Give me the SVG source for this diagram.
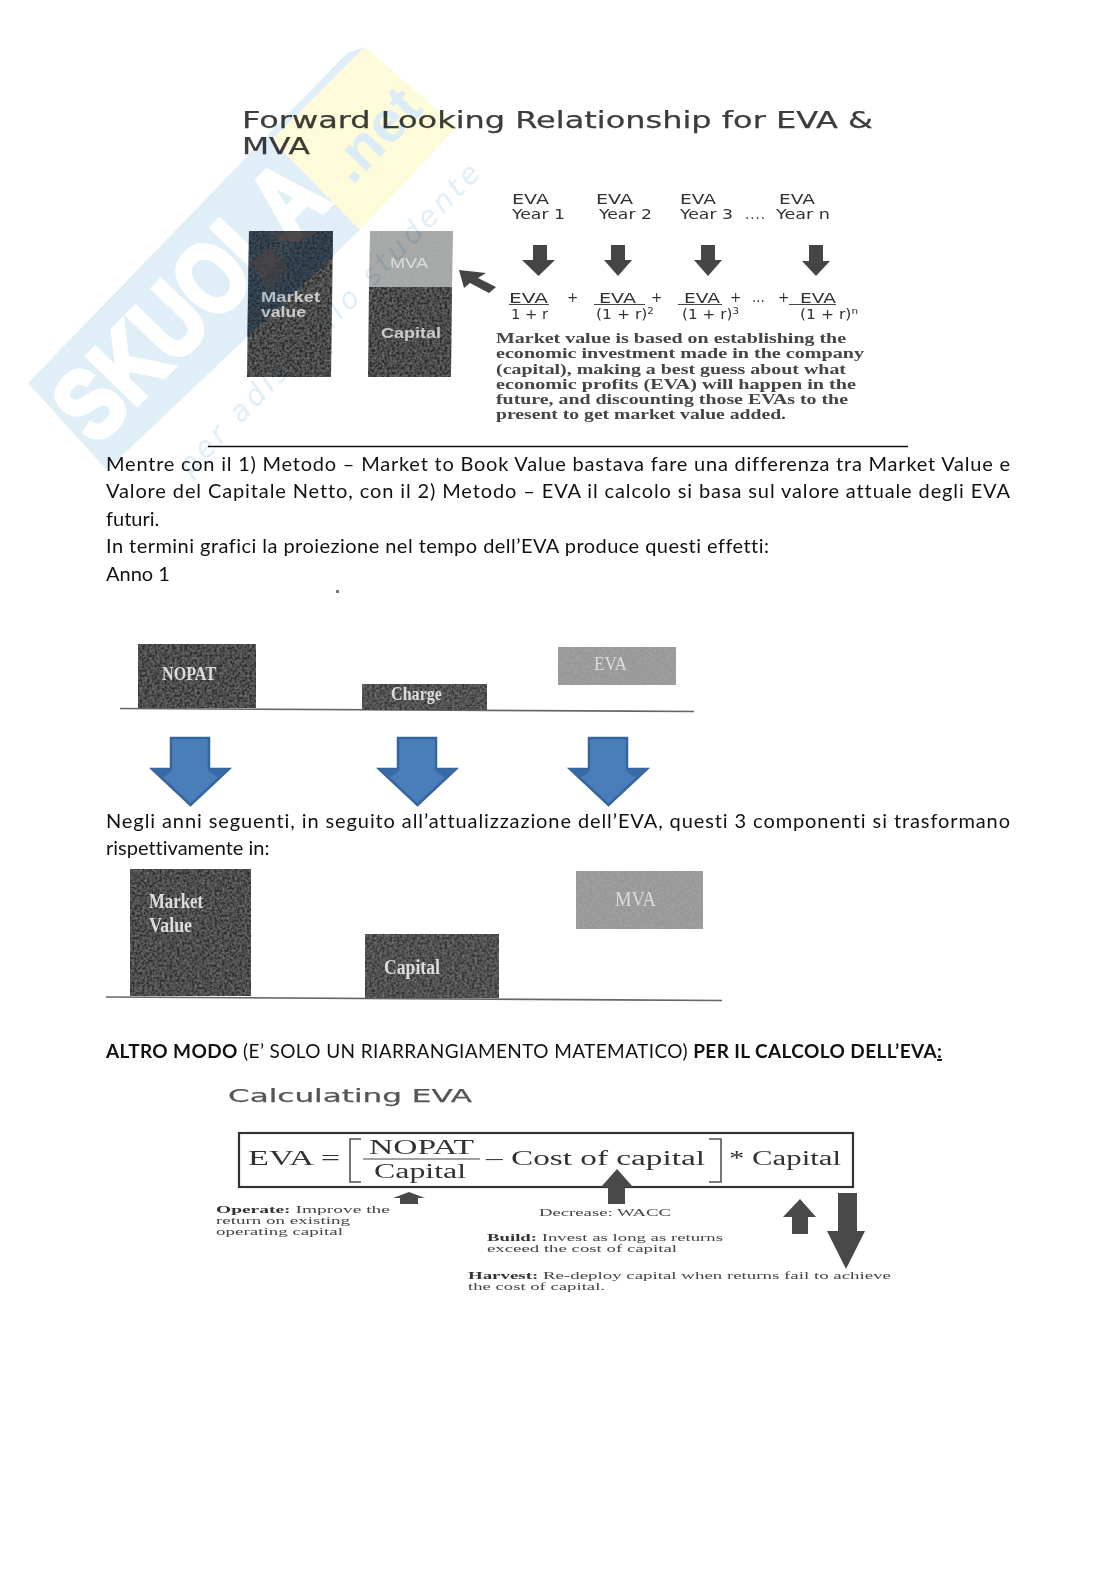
<svg xmlns="http://www.w3.org/2000/svg" xmlns:xlink="http://www.w3.org/1999/xlink" width="1116" height="1579" viewBox="0 0 1116 1579">
<style>
.b{font-family:Lato,"Liberation Sans",sans-serif;font-size:20px;fill:#111;font-variant-ligatures:none}
.s{font-family:"DejaVu Sans",sans-serif;fill:#3c3c3c;stroke:#3c3c3c;stroke-width:.25}
.a{font-family:"DejaVu Sans",sans-serif;font-size:13.5px;fill:#333}
.p{font-family:"Liberation Serif",serif;font-size:15.5px;font-weight:bold;fill:#444}
.l{font-family:"Liberation Sans",sans-serif;font-size:15px;font-weight:bold;fill:#ccc}
.w{font-family:"Liberation Serif",serif;fill:#ddd;font-size:19px}
.f{font-family:"Liberation Serif",serif;font-size:20px;fill:#333}
.n{font-family:"Liberation Serif",serif;font-size:11px;fill:#444}
.nb{font-weight:bold;fill:#333}
.dk{fill:#444}
.blue{fill:#4a7ebb;stroke:#34659c;stroke-width:2.5}
.bevel{fill:#3a6aa3}
.u{stroke:#444;stroke-width:1.2}
</style>
<defs>
<filter id="grain" x="0" y="0" width="100%" height="100%">
<feTurbulence type="fractalNoise" baseFrequency="0.4" numOctaves="2" seed="4" result="t"/>
<feColorMatrix in="t" type="matrix" values="0 0 0 0 0.5 0 0 0 0 0.5 0 0 0 0 0.5 0.55 0 0 0 -0.17" result="g"/>
<feComposite in="g" in2="SourceAlpha" operator="in" result="gc"/>
<feMerge><feMergeNode in="SourceGraphic"/><feMergeNode in="gc"/></feMerge>
</filter>
<filter id="soft"><feGaussianBlur stdDeviation="0.4"/></filter>
<g id="blue-arrow">
<polygon class="blue" points="171,738 209,738 209,769 229,769 190.5,805 152,769 171,769"/>
<polygon class="bevel" points="152,769 171,769 171,772 162,778"/>
<polygon class="bevel" points="229,769 209,769 209,772 219,778"/>
</g>
</defs>

<g id="forward-chart" filter="url(#soft)">
<text class="s" x="242" y="128" font-size="23.5" textLength="631" lengthAdjust="spacingAndGlyphs">Forward Looking Relationship for EVA &amp;</text>
<text class="s" x="242" y="154" font-size="23.5" textLength="68" lengthAdjust="spacingAndGlyphs">MVA</text>

<g id="market-value">
<polygon points="249,231 333,231 331,377 247,377" fill="#2c2c2c" filter="url(#grain)"/>
<polygon points="249,231 333,231 333,257 247,337" fill="#1f3a50" opacity=".45"/>
<polygon points="267,232 317,232 305,241 280,241" fill="#544a48" opacity=".8"/>
<polygon points="253,262 271,247 288,268 268,294" fill="#4a4444" opacity=".7"/>
<text class="l" x="261" y="302" textLength="59" lengthAdjust="spacingAndGlyphs">Market</text>
<text class="l" x="261" y="317" textLength="45" lengthAdjust="spacingAndGlyphs">value</text>
</g>
<g id="mva-capital">
<polygon points="370,231 453,231 452,287 369,287" fill="#a5a7a7" filter="url(#grain)"/>
<polygon points="369,287 452,287 451,377 368,377" fill="#2c2c2c" filter="url(#grain)"/>
<text class="l" x="390" y="268" textLength="38" lengthAdjust="spacingAndGlyphs" style="fill:#ddd;font-weight:normal">MVA</text>
<text class="l" x="381" y="338" textLength="60" lengthAdjust="spacingAndGlyphs">Capital</text>
</g>
<polygon id="diag-arrow" class="dk" points="459,270 486,273 478,278 496,287 489,293 470,283 464,288"/>

<g id="years">
<text class="a" x="512" y="204" textLength="37" lengthAdjust="spacingAndGlyphs">EVA</text><text class="a" x="512" y="219" textLength="53" lengthAdjust="spacingAndGlyphs">Year 1</text>
<text class="a" x="596" y="204" textLength="37" lengthAdjust="spacingAndGlyphs">EVA</text><text class="a" x="599" y="219" textLength="53" lengthAdjust="spacingAndGlyphs">Year 2</text>
<text class="a" x="680" y="204" textLength="36" lengthAdjust="spacingAndGlyphs">EVA</text><text class="a" x="680" y="219" textLength="53" lengthAdjust="spacingAndGlyphs">Year 3</text>
<text class="a" x="745" y="219" textLength="20" lengthAdjust="spacing">....</text>
<text class="a" x="779" y="204" textLength="36" lengthAdjust="spacingAndGlyphs">EVA</text><text class="a" x="776" y="219" textLength="54" lengthAdjust="spacingAndGlyphs">Year n</text>
</g>
<g id="year-arrows" class="dk">
<polygon points="533,245 547,245 547,260 555,260 538.5,276 522,260 533,260"/>
<polygon points="611,245 625,245 625,260 632,260 618,276 604,260 611,260"/>
<polygon points="701,245 715,245 715,260 722,260 708,276 694,260 701,260"/>
<polygon points="809,245 823,245 823,261 830,261 816,276 802,261 809,261"/>
</g>
<g id="formula">
<text class="a" x="509" y="303" textLength="39" lengthAdjust="spacingAndGlyphs">EVA</text><text class="a" x="511" y="319" textLength="37" lengthAdjust="spacingAndGlyphs">1 + r</text>
<text class="a" x="567" y="302">+</text>
<text class="a" x="599" y="303" textLength="37" lengthAdjust="spacingAndGlyphs">EVA</text><text class="a" x="596" y="319" textLength="58" lengthAdjust="spacingAndGlyphs">(1 + r)<tspan font-size="9" dy="-5">2</tspan></text>
<text class="a" x="651" y="302">+</text>
<text class="a" x="684" y="303" textLength="36" lengthAdjust="spacingAndGlyphs">EVA</text><text class="a" x="682" y="319" textLength="57" lengthAdjust="spacingAndGlyphs">(1 + r)<tspan font-size="9" dy="-5">3</tspan></text>
<text class="a" x="730" y="302">+</text>
<text class="a" x="752" y="302">...</text>
<text class="a" x="778" y="302">+</text>
<text class="a" x="800" y="303" textLength="36" lengthAdjust="spacingAndGlyphs">EVA</text><text class="a" x="800" y="319" textLength="58" lengthAdjust="spacingAndGlyphs">(1 + r)<tspan font-size="9" dy="-5">n</tspan></text>
<line class="u" x1="509" y1="304.5" x2="549" y2="304.5"/>
<line class="u" x1="594" y1="304.5" x2="645" y2="304.5"/>
<line class="u" x1="678" y1="304.5" x2="722" y2="304.5"/>
<line class="u" x1="789" y1="304.5" x2="836" y2="304.5"/>
</g>
<g id="market-paragraph">
<text class="p" x="496" y="343" textLength="350" lengthAdjust="spacingAndGlyphs">Market value is based on establishing the</text>
<text class="p" x="496" y="358" textLength="368" lengthAdjust="spacingAndGlyphs">economic investment made in the company</text>
<text class="p" x="496" y="374" textLength="350" lengthAdjust="spacingAndGlyphs">(capital), making a best guess about what</text>
<text class="p" x="496" y="389" textLength="360" lengthAdjust="spacingAndGlyphs">economic profits (EVA) will happen in the</text>
<text class="p" x="496" y="404" textLength="352" lengthAdjust="spacingAndGlyphs">future, and discounting those EVAs to the</text>
<text class="p" x="496" y="419" textLength="290" lengthAdjust="spacingAndGlyphs">present to get market value added.</text>
</g>
</g>
<line id="rule" x1="208" y1="446.5" x2="908" y2="446.5" stroke="#111" stroke-width="1.6"/>

<g id="body-1">
<text class="b" x="106" y="471" textLength="904" lengthAdjust="spacing">Mentre con il 1) Metodo – Market to Book Value bastava fare una differenza tra Market Value e</text>
<text class="b" x="106" y="498" textLength="904" lengthAdjust="spacing">Valore del Capitale Netto, con il 2) Metodo – EVA il calcolo si basa sul valore attuale degli EVA</text>
<text class="b" x="106" y="526">futuri.</text>
<text class="b" x="106" y="553" textLength="663" lengthAdjust="spacing">In termini grafici la proiezione nel tempo dell’EVA produce questi effetti:</text>
<text class="b" x="106" y="581">Anno 1</text>
</g>
<rect id="speck" x="336" y="590" width="3" height="3" fill="#777"/>

<g id="year1-chart" filter="url(#soft)">
<line x1="120" y1="708.5" x2="694" y2="711.5" stroke="#666" stroke-width="1.6"/>
<g id="nopat"><rect x="138" y="644" width="118" height="64" fill="#2f2f2f" filter="url(#grain)"/>
<text class="w" x="162" y="680" textLength="54" lengthAdjust="spacingAndGlyphs" font-weight="bold">NOPAT</text></g>
<g id="charge"><rect x="362" y="684" width="125" height="26" fill="#393939" filter="url(#grain)"/>
<text class="w" x="391" y="700" textLength="51" lengthAdjust="spacingAndGlyphs" font-weight="bold">Charge</text></g>
<g id="eva"><rect x="558" y="647" width="118" height="38" fill="#979797" filter="url(#grain)"/>
<text class="w" x="594" y="670" textLength="33" lengthAdjust="spacingAndGlyphs">EVA</text></g>
</g>

<g id="transform-arrows">
<use xlink:href="#blue-arrow" href="#blue-arrow"/>
<use xlink:href="#blue-arrow" href="#blue-arrow" x="227"/>
<use xlink:href="#blue-arrow" href="#blue-arrow" x="418"/>
</g>

<g id="body-2">
<text class="b" x="106" y="828" textLength="904" lengthAdjust="spacing">Negli anni seguenti, in seguito all’attualizzazione dell’EVA, questi 3 componenti si trasformano</text>
<text class="b" x="106" y="855">rispettivamente in:</text>
</g>

<g id="later-chart" filter="url(#soft)">
<line x1="106" y1="997" x2="722" y2="1000.5" stroke="#666" stroke-width="1.6"/>
<g id="market-value-2"><rect x="130" y="869" width="121" height="127" fill="#2f2f2f" filter="url(#grain)"/>
<text class="w" x="149" y="908" style="font-size:20px" textLength="54" lengthAdjust="spacingAndGlyphs" font-weight="bold">Market</text>
<text class="w" x="149" y="932" style="font-size:20px" textLength="43" lengthAdjust="spacingAndGlyphs" font-weight="bold">Value</text></g>
<g id="capital-2"><rect x="365" y="934" width="134" height="64" fill="#343434" filter="url(#grain)"/>
<text class="w" x="384" y="974" style="font-size:20px" textLength="56" lengthAdjust="spacingAndGlyphs" font-weight="bold">Capital</text></g>
<g id="mva-2"><rect x="576" y="871" width="127" height="58" fill="#979797" filter="url(#grain)"/>
<text class="w" x="615" y="906" style="font-size:20px" textLength="41" lengthAdjust="spacingAndGlyphs">MVA</text></g>
</g>

<text class="b" x="106" y="1058" textLength="836" lengthAdjust="spacing" style="font-size:19px"><tspan font-weight="bold">ALTRO MODO</tspan> (E’ SOLO UN RIARRANGIAMENTO MATEMATICO) <tspan font-weight="bold">PER IL CALCOLO DELL’EVA</tspan><tspan font-weight="bold" text-decoration="underline">:</tspan></text>

<g id="calculating" filter="url(#soft)">
<text class="s" x="228" y="1102" font-size="18.5" textLength="244" lengthAdjust="spacingAndGlyphs" style="fill:#555;stroke:#555">Calculating EVA</text>
<g id="equation">
<rect x="239" y="1133" width="614" height="54" fill="#fff" stroke="#333" stroke-width="2.2"/>
<text class="f" x="248" y="1165" textLength="92" lengthAdjust="spacingAndGlyphs">EVA =</text>
<path d="M361,1139 H350 V1182 H361 M709,1139 H721 V1182 H709" fill="none" stroke="#555" stroke-width="1.6"/>
<text class="f" x="369" y="1154" textLength="105" lengthAdjust="spacingAndGlyphs">NOPAT</text>
<line x1="363" y1="1159" x2="480" y2="1159" stroke="#444" stroke-width="1.2"/>
<text class="f" x="374" y="1178" textLength="92" lengthAdjust="spacingAndGlyphs">Capital</text>
<text class="f" x="486" y="1165" textLength="219" lengthAdjust="spacingAndGlyphs">– Cost of capital</text>
<text class="f" x="729" y="1165" textLength="112" lengthAdjust="spacingAndGlyphs">* Capital</text>
</g>
<g id="lever-arrows" fill="#4a4a4a">
<polygon points="409,1192 425,1198 418,1198 418,1204 400,1204 400,1198 393,1198"/>
<polygon points="617,1169 633,1187 625,1187 625,1204 608,1204 608,1187 601,1187"/>
<polygon points="800,1199 816,1217 808,1217 808,1234 792,1234 792,1217 783,1217"/>
<polygon points="838,1193 857,1193 857,1231 865,1231 846,1269 827,1231 838,1231"/>
</g>
<g id="notes">
<text class="n" x="216" y="1213" textLength="174" lengthAdjust="spacingAndGlyphs"><tspan class="nb">Operate:</tspan>  Improve the</text>
<text class="n" x="216" y="1224" textLength="134" lengthAdjust="spacingAndGlyphs">return on existing</text>
<text class="n" x="216" y="1235" textLength="127" lengthAdjust="spacingAndGlyphs">operating capital</text>
<text class="n" x="539" y="1216" textLength="132" lengthAdjust="spacingAndGlyphs">Decrease: WACC</text>
<text class="n" x="487" y="1241" textLength="236" lengthAdjust="spacingAndGlyphs"><tspan class="nb">Build:</tspan> Invest as long as returns</text>
<text class="n" x="487" y="1252" textLength="190" lengthAdjust="spacingAndGlyphs">exceed the cost of capital</text>
<text class="n" x="468" y="1279" textLength="423" lengthAdjust="spacingAndGlyphs"><tspan class="nb">Harvest:</tspan> Re-deploy capital when returns fail to achieve</text>
<text class="n" x="468" y="1290" textLength="137" lengthAdjust="spacingAndGlyphs">the cost of capital.</text>
</g>
</g>

<g id="watermark" style="mix-blend-mode:multiply">
<polygon points="28,383 347,53 365,47 272,140 360,230 107,470" fill="#e0eef7"/>
<polygon points="365,47 457,127 360,230 272,140" fill="#fdfbd9"/>
<text transform="translate(96,447) rotate(-46)" font-family="Liberation Sans,sans-serif" font-weight="bold" font-size="100" fill="#fff" stroke="#fff" stroke-width="5" textLength="340" lengthAdjust="spacingAndGlyphs">SKUOLA</text>
<text transform="translate(352,186) rotate(-46)" font-family="Liberation Sans,sans-serif" font-weight="bold" font-size="58" fill="#dcecf6" textLength="105" lengthAdjust="spacingAndGlyphs">.net</text>
<text transform="translate(190,477) rotate(-46)" font-family="DejaVu Sans,sans-serif" font-style="italic" font-size="29" fill="#e0eef7" textLength="420" lengthAdjust="spacing">per adisu allo studente</text>
</g>
</svg>
